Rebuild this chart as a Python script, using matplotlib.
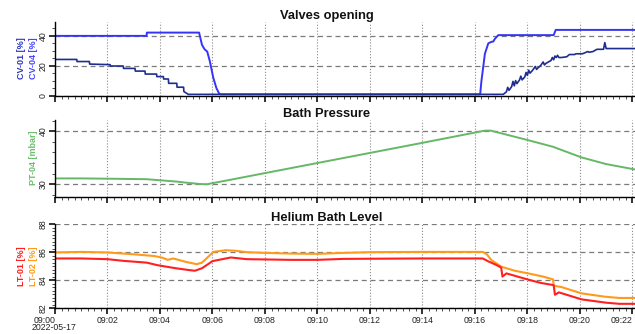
import matplotlib
matplotlib.use("Agg")
import matplotlib.pyplot as plt
import matplotlib.dates as mdates
import pandas as pd

plt.rcParams['font.family'] = ['Liberation Sans', 'DejaVu Sans']

# minutes after 09:00 on 2022-05-17
start = pd.Timestamp("2022-05-17 09:00:00")

cv04_t = [0, 3.49, 3.5, 5.49, 5.6, 5.7, 5.8, 5.9, 6.03, 6.15, 6.25, 6.3,
          16.2, 16.25, 16.32, 16.38, 16.51, 16.63, 16.7, 16.76, 16.89, 19.0, 19.08, 22.3]
cv04_v = [40, 40, 42.2, 42.2, 34, 31, 29.5, 23, 12, 5, 1.5, 0.8,
          0.8, 10, 19.6, 28, 35, 36, 36.2, 38, 40.5, 40.5, 44, 44]

cv01_t = [0, 0.83, 0.84, 1.31, 1.32, 2.1, 2.11, 2.6, 2.61, 3.05, 3.06, 3.43, 3.44,
          3.87, 3.88, 4.13, 4.14, 4.32, 4.33, 4.64, 4.65, 4.9, 4.91, 5.08,
          17.08, 17.2, 17.25, 17.3, 17.4, 17.45, 17.5, 17.55, 17.6, 17.7, 17.75, 17.8,
          17.9, 17.95, 18.0, 18.05, 18.1, 18.2, 18.3, 18.35, 18.4, 18.5, 18.6, 18.65,
          18.7, 18.8, 18.9, 18.95, 19.0, 19.05, 19.1, 19.15, 19.2, 19.3, 19.5, 19.6,
          19.8, 19.85, 20.1, 20.3, 20.35, 20.5, 20.6, 20.65, 20.9, 20.95, 21.0, 22.3]
cv01_v = [24.2, 24.2, 22.8, 22.8, 21.1, 20.7, 19.8, 19.8, 18.2, 18.2, 16.4, 16.4, 14.4,
          14.4, 12.7, 12.7, 11.1, 11.1, 8.2, 8.2, 5.6, 5.6, 2.7, 0.8,
          0.8, 2.5, 5.5, 3.5, 6, 9.5, 6.5, 10, 8, 10.5, 13, 10.5,
          12.5, 15.5, 13.5, 17, 15, 17, 19.5, 17.5, 18.5, 20, 22.5, 20.5,
          21.5, 22.5, 23.5, 25.5, 24, 26.5, 25.5, 27, 25.5, 25.5, 26, 27.5,
          27.5, 28, 28, 29.5, 29, 29.5, 30.5, 31, 31, 35.5, 31.5, 31.5]

pt04_t = [0, 1, 2, 3.49, 4.0, 4.64, 5.0, 5.52, 5.78, 6.5, 8, 10, 12, 14, 16.38,
          16.6, 17, 18.03, 18.98, 20.06, 21, 22.3]
pt04_v = [31.1, 31.1, 31.05, 30.95, 30.75, 30.5, 30.3, 30.05, 30.0, 30.67, 32.1, 34.0,
          35.9, 37.8, 40.1, 40.1, 39.6, 38.3, 37.05, 35.06, 33.8, 32.6]

lt02_t = [0, 1, 2, 3, 3.8, 4.1, 4.3, 4.5, 5.0, 5.4, 5.6, 5.8, 6.03, 6.5, 6.9, 7.3, 8, 9,
          10, 11, 12, 14, 16.3, 16.45, 16.63, 17.02, 17.52, 18.03, 18.6, 18.98, 19.0,
          19.3, 20.06, 20.95, 21.5, 22.3]
lt02_v = [85.98, 86.02, 85.98, 85.85, 85.72, 85.6, 85.45, 85.55, 85.3, 85.14, 85.25,
          85.6, 86.02, 86.14, 86.1, 86.0, 85.95, 85.9, 85.88, 85.95, 86.0, 86.02, 86.02,
          85.85, 85.43, 84.95, 84.67, 84.48, 84.25, 84.05, 83.6, 83.5, 83.05, 82.81,
          82.72, 82.72]

lt01_t = [0, 1, 2, 2.6, 3.5, 3.9, 4.6, 5.1, 5.33, 5.6, 5.8, 6.0, 6.7, 7.3, 9, 10, 11,
          14, 16.3, 16.5, 16.8, 17.0, 17.05, 17.2, 18.0, 18.5, 19.0, 19.05, 19.2, 20.06,
          21.0, 21.5, 22.3]
lt01_v = [85.55, 85.55, 85.5, 85.38, 85.25, 85.07, 84.85, 84.72, 84.67, 84.85, 85.1,
          85.36, 85.62, 85.5, 85.45, 85.45, 85.52, 85.55, 85.55, 85.35, 85.1, 84.9, 84.25,
          84.48, 84.05, 83.8, 83.64, 82.95, 83.12, 82.62, 82.38, 82.3, 82.3]

tick_minutes = list(range(0, 23, 2))
tick_labels = ["09:%02d" % m for m in tick_minutes]


def to_time(mins):
    return start + pd.to_timedelta(mins, unit="min")


W, H = 635, 334
fig = plt.figure(figsize=(W / 100, H / 100), dpi=100)

left = 55 / W
right = 1.0
boxes = [(22, 96), (120, 197), (224, 308)]
axes = []
for top, bot in boxes:
    ax = fig.add_axes([left, 1 - bot / H, right - left, (bot - top) / H])
    axes.append(ax)

x0 = start
x1 = to_time(22.1)

panels = [
    ("Valves opening", (-0.3, 49.3), [0, 20, 40], 5),
    ("Bath Pressure", (27.6, 42.1), [30, 40], 2),
    ("Helium Bath Level", (82, 88.02), [82, 84, 86, 88], 0.25),
]

for i, (ax, (title, ylim, yt, ymin_step)) in enumerate(zip(axes, panels)):
    ax.set_xlim(x0, x1)
    ax.set_ylim(*ylim)
    ax.set_yticks(yt)
    ax.yaxis.set_minor_locator(matplotlib.ticker.MultipleLocator(ymin_step))
    ax.set_xticks([to_time(m) for m in tick_minutes])
    ax.xaxis.set_minor_locator(mdates.SecondLocator(bysecond=[0, 15, 30, 45]))
    if i == 2:
        ax.set_xticklabels(tick_labels)
    else:
        ax.set_xticklabels([])
    for s in ("top", "right"):
        ax.spines[s].set_visible(False)
    ax.spines["left"].set_linewidth(1.0)
    ax.spines["bottom"].set_linewidth(1.0)
    ax.tick_params(which="major", direction="out", length=4, width=1.3,
                   labelsize=6.3, pad=1.5, colors="#222222")
    ax.tick_params(which="minor", direction="out", length=2.3, width=0.6, colors="#333333")
    for lbl in ax.get_yticklabels():
        lbl.set_rotation(90)
        lbl.set_va("center")
    ax.grid(axis="x", which="major", linestyle=":", color="#8a8a8a", lw=0.8)
    ax.grid(axis="y", which="major", linestyle=(0, (4, 3)), color="#7a7a7a", lw=0.9)
    ax.set_title(title, x=0.469, pad=1.5, fontsize=9.3, fontweight="bold", color="#111111")

ax1, ax2, ax3 = axes
ax1.plot(to_time(cv04_t), cv04_v, color="#3535f5", lw=1.4)
ax1.plot(to_time(cv01_t), cv01_v, color="#1e2d90", lw=1.2)
ax2.plot(to_time(pt04_t), pt04_v, color="#66b866", lw=1.4)
ax3.plot(to_time(lt02_t), lt02_v, color="#ff9a1a", lw=1.5)
ax3.plot(to_time(lt01_t), lt01_v, color="#ff2020", lw=1.5)

xlabels = ax3.get_xticklabels()
xlabels[0].set_horizontalalignment("right")
xlabels[-1].set_horizontalalignment("right")

fig.text(54 / W, 1 - 328 / H, "2022-05-17", ha="center", va="center",
         fontsize=6.3, color="#222222")

ylab_kw = dict(rotation=90, ha="center", va="center", fontsize=6.5, fontweight="bold")
fig.text(22 / W, 1 - 58 / H, "CV-01 [%]", color="#2a35c0", **ylab_kw)
fig.text(33 / W, 1 - 58 / H, "CV-04 [%]", color="#4545ff", **ylab_kw)
fig.text(33 / W, 1 - 158 / H, "PT-04 [mbar]", color="#6cbf6c", **ylab_kw)
fig.text(22 / W, 1 - 266 / H, "LT-01 [%]", color="#ff2020", **ylab_kw)
fig.text(33 / W, 1 - 266 / H, "LT-02 [%]", color="#ff9a1a", **ylab_kw)

fig.savefig("out.png", dpi=100)
